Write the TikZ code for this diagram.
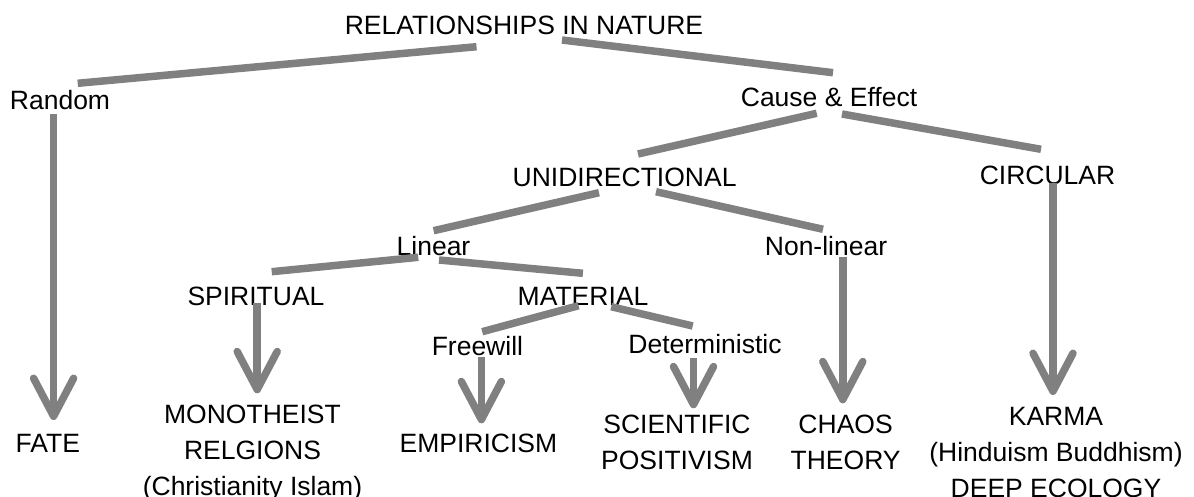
\documentclass[tikz,border=0pt]{standalone}
\usepackage{fontspec}
\setmainfont{Liberation Sans}
\usetikzlibrary{arrows.meta}
\definecolor{linkgray}{HTML}{808080}
\begin{document}
\begin{tikzpicture}[x=1pt,y=-1pt,
  lbl/.style={inner sep=0pt, font=\fontsize{26.5}{36}\selectfont, text=black},
  multi/.style={lbl, anchor=north, align=center},
  link/.style={draw=linkgray, line width=7.5pt},
  arr/.style={link, -{Straight Barb[length=38pt,width=40pt,round]}}]
\useasboundingbox (0,0) rectangle (1194,497);
% labels
\node[lbl, anchor=base] (rin) at (524,35) {RELATIONSHIPS IN NATURE};
\node[lbl, anchor=base] (random) at (60,110) {Random};
\node[lbl, anchor=base] (cause) at (829,107) {Cause \& Effect};
\node[lbl, anchor=base] (uni) at (624.6,187) {UNIDIRECTIONAL};
\node[lbl, anchor=base] (circ) at (1047.5,185) {CIRCULAR};
\node[lbl, anchor=base] (linear) at (433.5,255) {Linear};
\node[lbl, anchor=base] (nonlin) at (826,255) {Non-linear};
\node[lbl, anchor=base] (spir) at (256,305) {SPIRITUAL};
\node[lbl, anchor=base] (mat) at (583,305) {MATERIAL};
\node[lbl, anchor=base] (free) at (477.4,355) {Freewill};
\node[lbl, anchor=base] (det) at (705,353) {Deterministic};
\node[lbl, anchor=base] (fate) at (47.8,452) {FATE};
\node[lbl, anchor=base] (emp) at (478.4,452) {EMPIRICISM};
\node[multi] (mono) at (252.5,405) {MONOTHEIST\\RELGIONS\\(Christianity Islam)};
\node[multi] (sci) at (677,415) {SCIENTIFIC\\POSITIVISM};
\node[multi] (chaos) at (845.6,415) {CHAOS\\THEORY};
\node[multi] (karma) at (1056,406.7) {KARMA\\(Hinduism Buddhism)\\DEEP ECOLOGY};
% connectors
\draw[link] ([shift={(-47.5,11.7)}]rin.base) -- ([shift={(17.7,-26.7)}]random.base);
\draw[link] ([shift={(38,5)}]rin.base) -- ([shift={(4,-34.3)}]cause.base);
\draw[arr] ([shift={(-6.4,4.3)}]random.base) -- ([shift={(5.8,-32)}]fate.base);
\draw[link] ([shift={(-12.3,6.3)}]cause.base) -- ([shift={(13.4,-33)}]uni.base);
\draw[link] ([shift={(13,7)}]cause.base) -- ([shift={(-6.5,-35.7)}]circ.base);
\draw[arr] ([shift={(5.5,-2.3)}]circ.base) -- ([shift={(-3,-11.7)}]karma.north);
\draw[link] ([shift={(-25.6,5.7)}]uni.base) -- ([shift={(0.1,-24.3)}]linear.base);
\draw[link] ([shift={(31.4,4.7)}]uni.base) -- ([shift={(-3,-25.7)}]nonlin.base);
\draw[arr] ([shift={(16.8,1.7)}]nonlin.base) -- ([shift={(-2.8,-11.7)}]chaos.north);
\draw[link] ([shift={(-15.2,2.3)}]linear.base) -- ([shift={(15.7,-33.3)}]spir.base);
\draw[link] ([shift={(5.5,5)}]linear.base) -- ([shift={(-0.1,-31.7)}]mat.base);
\draw[arr] ([shift={(1.2,-1.7)}]spir.base) -- ([shift={(4.7,-11.7)}]mono.north);
\draw[link] ([shift={(-4.4,0.7)}]mat.base) -- ([shift={(4.8,-23.3)}]free.base);
\draw[link] ([shift={(28.2,1.7)}]mat.base) -- ([shift={(-12.3,-27)}]det.base);
\draw[arr] ([shift={(4,1.7)}]free.base) -- ([shift={(3,-28.7)}]emp.base);
\draw[arr] ([shift={(-11.5,5.3)}]det.base) -- ([shift={(16.5,-6.7)}]sci.north);
\end{tikzpicture}
\end{document}
